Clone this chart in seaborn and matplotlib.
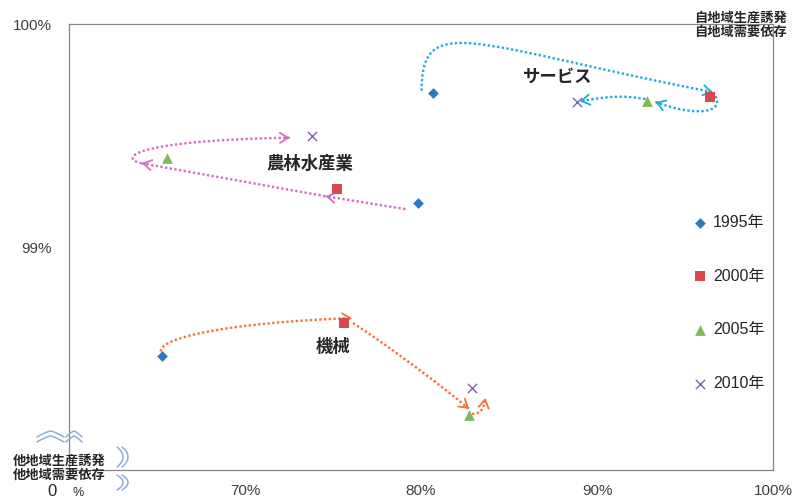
import numpy as np
import pandas as pd
import matplotlib
matplotlib.use("Agg")
import matplotlib.pyplot as plt
import seaborn as sns

# data : x = 自地域生産誘発 (%), y = 自地域需要依存 (%)
years = ["1995年", "2000年", "2005年", "2010年"]
sectors = ["サービス", "農林水産業", "機械"]
service_x = [80.66, 96.42, 92.86, 88.85]
service_y = [99.693, 99.673, 99.656, 99.650]
agri_x = [79.85, 75.25, 65.55, 73.79]
agri_y = [99.200, 99.262, 99.400, 99.501]
mach_x = [65.27, 75.63, 82.73, 82.92]
mach_y = [98.519, 98.664, 98.254, 98.374]
xticks = [70, 80, 90, 100]
yticks = [99, 100]

rows = []
for sec, xs, ys in zip(sectors, [service_x, agri_x, mach_x], [service_y, agri_y, mach_y]):
    for yr, xv, yv in zip(years, xs, ys):
        rows.append({"sector": sec, "year": yr, "x": xv, "y": yv})
df = pd.DataFrame(rows)

sns.set_style("white")
plt.rcParams["font.family"] = ["Liberation Sans", "Noto Sans CJK JP", "DejaVu Sans"]

W, H = 794, 499
fig = plt.figure(figsize=(W / 100, H / 100), dpi=100)
ax = fig.add_axes([69 / W, 1 - 469.5 / H, (773 - 69) / W, (469.5 - 24) / H])
ax.set_xlim(60, 100)
ax.set_ylim(98.01, 100)


def px(x, y):
    return (x / W, 1 - y / H)


# arrows along each sector path
line_colors = {"サービス": "#1DA9E2", "農林水産業": "#D46EC4", "機械": "#F5703A"}
# (from, to, start offset, end offset, depart angle, depart len, arrive angle, arrive len) in pixels, y up
paths = {
    "サービス": [(0, 1, (-11, 2), (3, 5), 90, 80, -11, 245),
                (1, 2, (3, 5), (8, -1), -53, 25, 160, 47),
                (2, 3, (-2, 2), (3, 1), 170, 25, 190, 25)],
    "農林水産業": [(0, 1, (-13, -6), (-12, -7), 0, 0, 0, 0),
              (1, 2, (-12, -7), (-25, -5), 0, 0, 0, 0),
              (2, 3, (-25, -5), (-22, -2), 168, 24, 1, 158)],
    "機械": [(0, 1, (-1, 4), (8, 5), 90, 17, 2, 102),
           (1, 2, (9, 0), (0, 6), -33, 40, -40, 40),
           (2, 3, (3, 1), (13, -10), 0, 10, 80, 10)],
}
inv = ax.transData.inverted()
for sec, segs in paths.items():
    sub = df[df["sector"] == sec].reset_index(drop=True)
    col = line_colors[sec]
    for i, j, o0, o1, a0, l0, a1, l1 in segs:
        p0 = ax.transData.transform((sub.x[i], sub.y[i])) + np.array(o0)
        p3 = ax.transData.transform((sub.x[j], sub.y[j])) + np.array(o1)
        c1 = p0 + l0 * np.array([np.cos(np.radians(a0)), np.sin(np.radians(a0))])
        c2 = p3 - l1 * np.array([np.cos(np.radians(a1)), np.sin(np.radians(a1))])
        t = np.linspace(0, 1, 120)[:, None]
        pts = ((1 - t) ** 3 * p0 + 3 * t * (1 - t) ** 2 * c1
               + 3 * t ** 2 * (1 - t) * c2 + t ** 3 * p3)
        d = inv.transform(pts)
        ax.plot(d[:, 0], d[:, 1], color=col, lw=1.7, ls=(0, (1, 1)), zorder=2)
        tang = p3 - (c2 if l1 > 0 else p0)
        tang = tang / np.hypot(*tang)
        tail = inv.transform(p3 - 4 * tang)
        head = inv.transform(p3)
        ax.annotate("", xy=head, xytext=tail,
                    arrowprops=dict(arrowstyle="->,head_length=0.45,head_width=0.28",
                                    color=col, lw=1.3, shrinkA=0, shrinkB=0,
                                    mutation_scale=13), zorder=3)

# points
markers = {"1995年": "D", "2000年": "s", "2005年": "^", "2010年": "x"}
colors = {"1995年": "#2A78C2", "2000年": "#D9484C", "2005年": "#7DBB57", "2010年": "#8064A8"}
sizes = {"1995年": 30, "2000年": 50, "2005年": 60, "2010年": 45}
for yr in years:
    sub = df[df["year"] == yr]
    sns.scatterplot(data=sub, x="x", y="y", marker=markers[yr], color=colors[yr],
                    s=sizes[yr], linewidth=1 if yr == "2010年" else 0, ax=ax,
                    label=yr, zorder=4)

# sector labels
label_pos = {"サービス": (87.78, 99.765), "農林水産業": (73.69, 99.379), "機械": (75.0, 98.558)}
for sec, (lx, ly) in label_pos.items():
    ax.text(lx, ly, sec, ha="center", va="center", fontsize=12.5,
            fontweight="bold", color="#262626")

# axes styling
for sp in ax.spines.values():
    sp.set_color("#868686")
    sp.set_linewidth(0.9)
ax.set_xticks(xticks)
ax.set_xticklabels([f"{v}%" for v in xticks])
ax.set_yticks(yticks)
ax.set_yticklabels([f"{v}%" for v in yticks])
ax.tick_params(axis="both", length=3.5, width=0.9, color="#868686",
               labelsize=11, labelcolor="#404040", direction="out")
ax.tick_params(axis="x", pad=7)
ax.tick_params(axis="y", pad=9)
ax.set_xlabel("")
ax.set_ylabel("")

leg = ax.legend(loc="upper left", bbox_to_anchor=px(693, 215),
                bbox_transform=fig.transFigure, frameon=False, fontsize=11.5,
                labelspacing=2.42, handlelength=0.9, handletextpad=0.35,
                borderpad=0, borderaxespad=0, markerscale=1.0)
for txt in leg.get_texts():
    txt.set_color("#262626")

# corner captions
fig.text(*px(740, 18), "自地域生産誘発", ha="center", va="center", fontsize=9.5,
         fontweight="bold", color="#262626")
fig.text(*px(740, 33), "自地域需要依存", ha="center", va="center", fontsize=9.5,
         fontweight="bold", color="#262626")
fig.text(*px(59, 461), "他地域生産誘発", ha="center", va="center", fontsize=9.5,
         fontweight="bold", color="#262626")
fig.text(*px(59, 476), "他地域需要依存", ha="center", va="center", fontsize=9.5,
         fontweight="bold", color="#262626")
fig.text(*px(52, 491), "0", ha="center", va="center", fontsize=12, color="#262626")
fig.text(*px(78, 493), "%", ha="center", va="center", fontsize=9, color="#262626")

# axis break marks
brk = "#8EAED6"
for x0, x1, xc in [(37, 64, 50.5), (66, 82, 74)]:
    xs = np.linspace(x0, x1, 30)
    half = max(xc - x0, x1 - xc)
    for off in (0, 5):
        ys = 431 + off + 6 * np.abs((xs - xc) / half) ** 1.3
        fx, fy = px(xs, ys)
        fig.add_artist(plt.Line2D(fx, fy, color=brk, lw=1.1))
for y0, y1 in [(447, 467), (475, 490)]:
    ys = np.linspace(y0, y1, 30)
    yc = (y0 + y1) / 2
    for off in (0, 5):
        xs = 117 + off + 6 * (1 - ((ys - yc) / ((y1 - y0) / 2)) ** 2)
        fx, fy = px(xs, ys)
        fig.add_artist(plt.Line2D(fx, fy, color=brk, lw=1.1))

fig.savefig("out.png", dpi=100)
